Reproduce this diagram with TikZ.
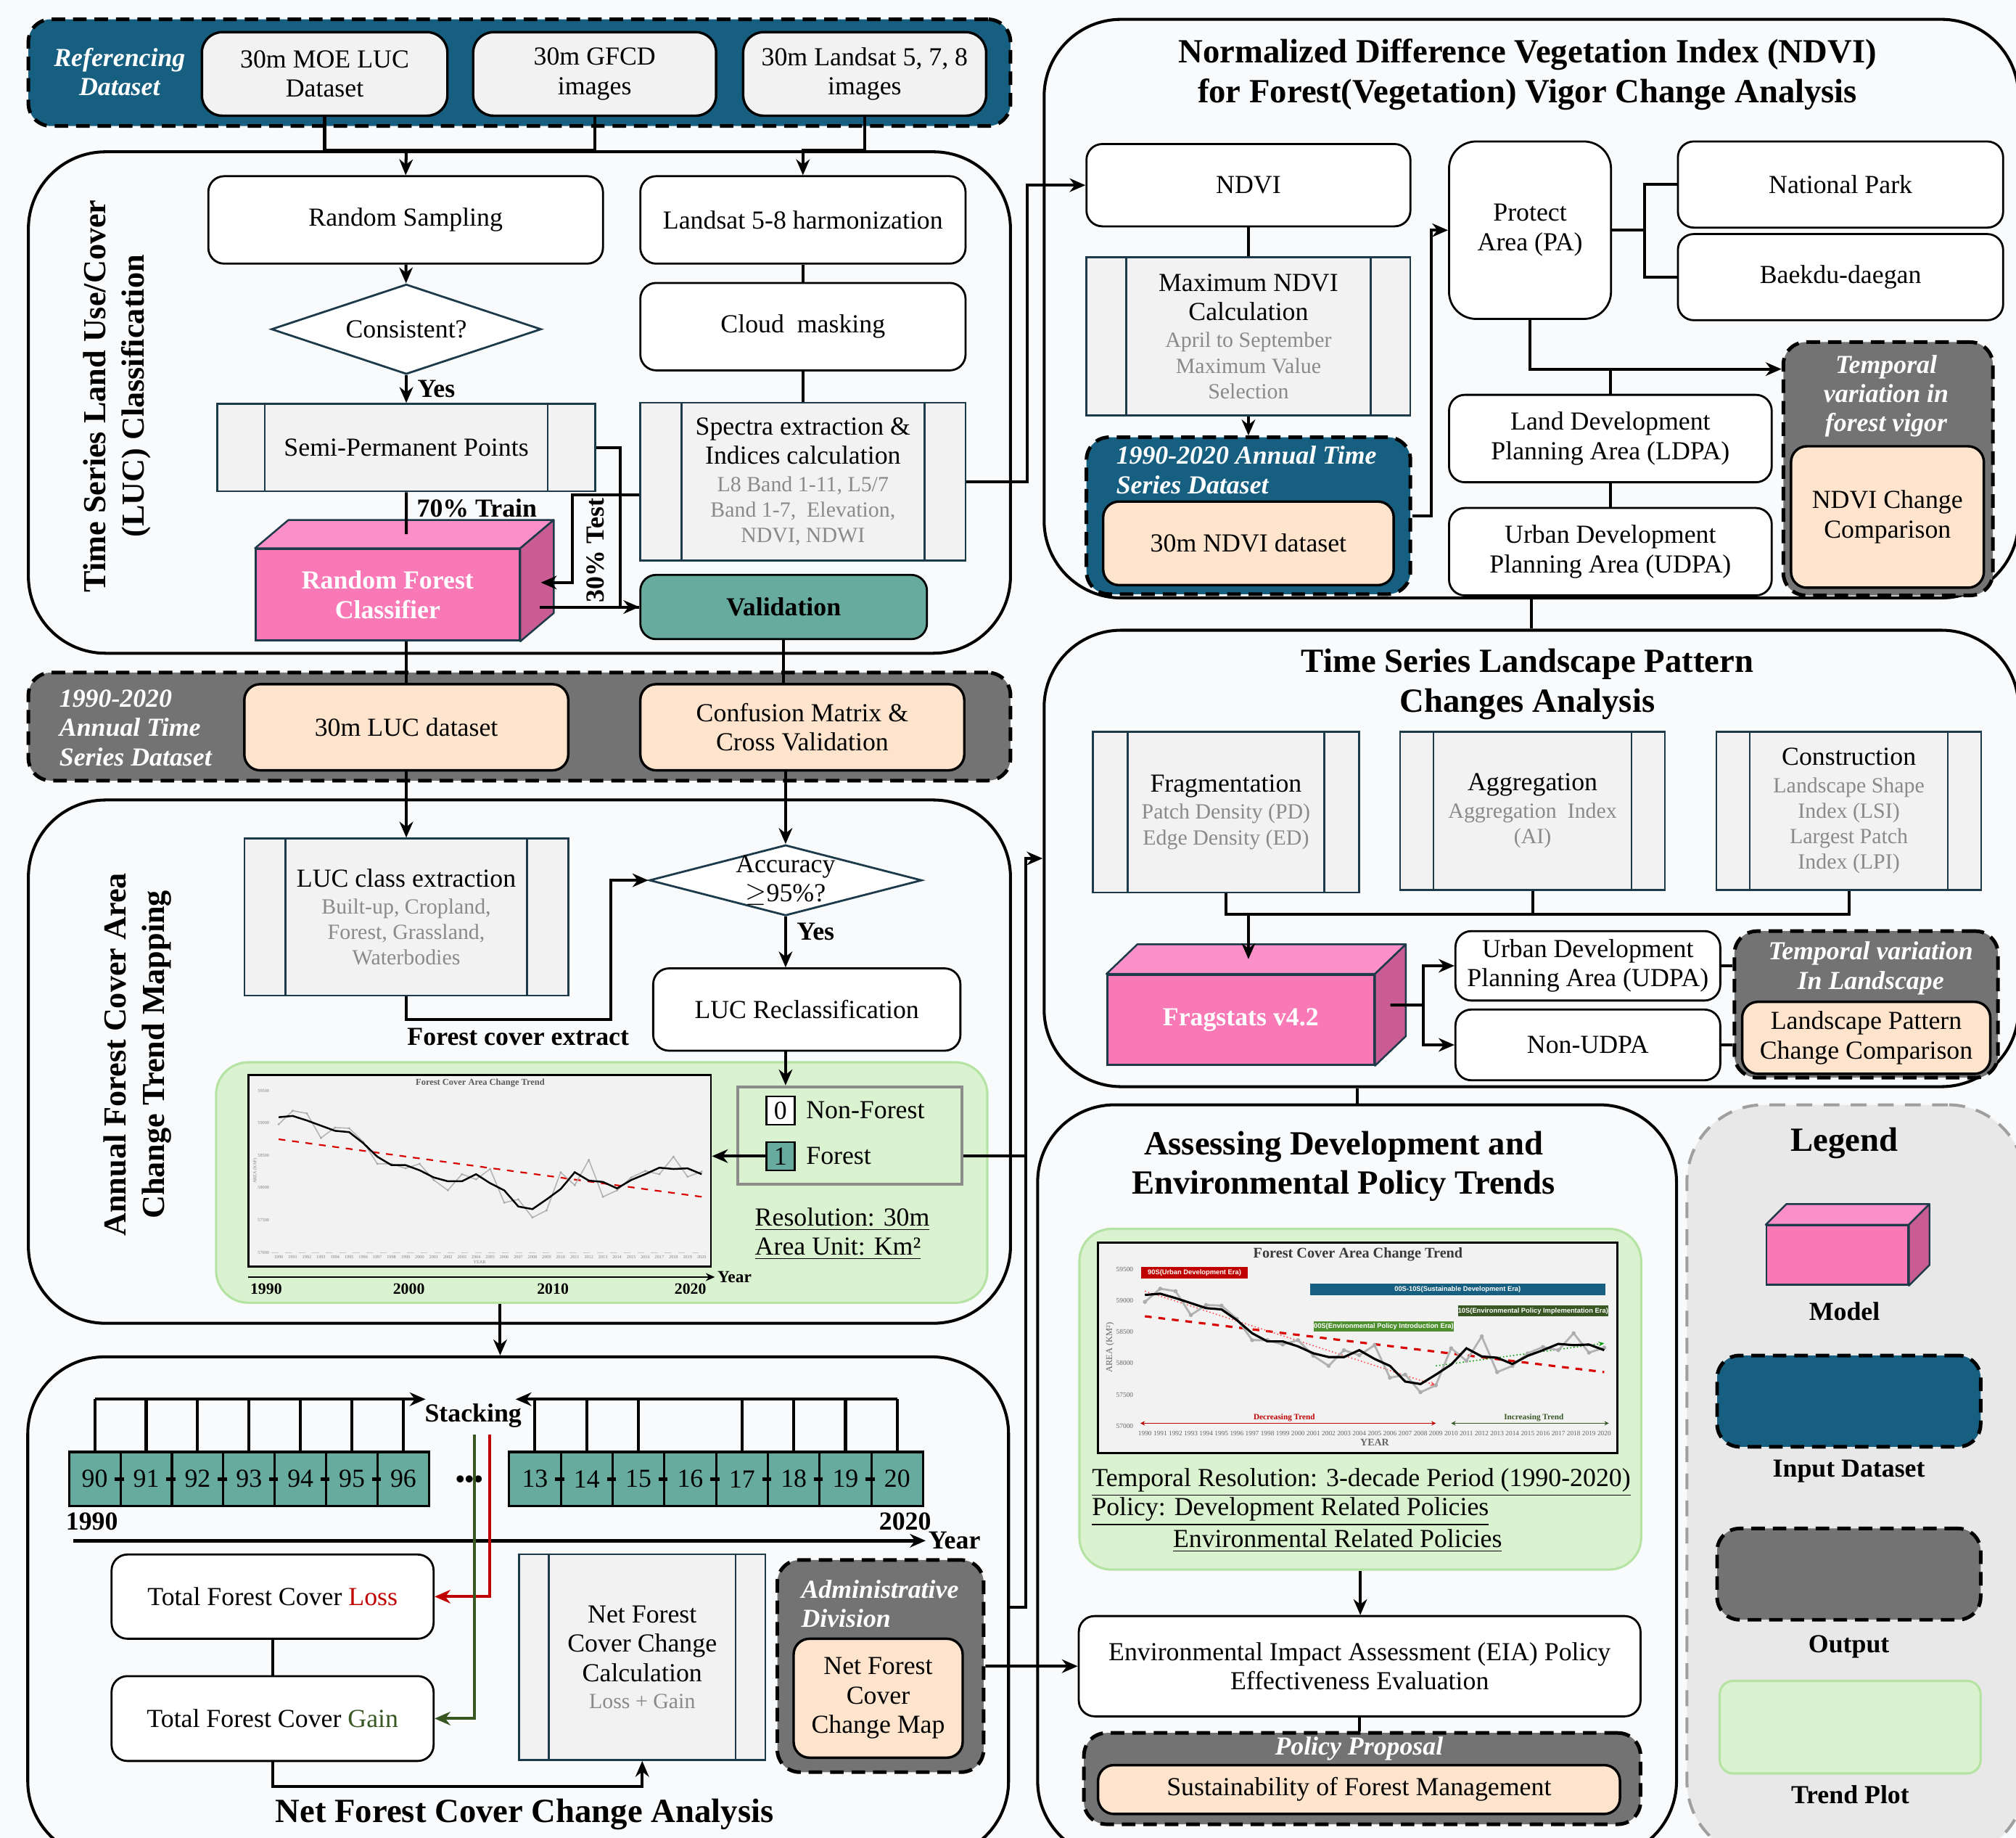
\documentclass[tikz,border=0pt]{standalone}
\usepackage{fontspec}
\setmainfont{Liberation Serif}
\setsansfont{Liberation Sans}
\usetikzlibrary{arrows.meta,positioning,shapes.geometric,calc}

\definecolor{bgcol}{HTML}{F8FAFC}
\definecolor{dsblue}{HTML}{175F80}
\definecolor{outgray}{HTML}{737373}
\definecolor{peach}{HTML}{FFE4CD}
\definecolor{boxgray}{HTML}{F2F2F2}
\definecolor{slate}{HTML}{1C3A4A}
\definecolor{pinkfront}{HTML}{F978B6}
\definecolor{pinktop}{HTML}{FA90C7}
\definecolor{pinkside}{HTML}{C95C92}
\definecolor{tealc}{HTML}{67AB9F}
\definecolor{trendgreen}{HTML}{DAF2D0}
\definecolor{trendedge}{HTML}{B5E3A3}
\definecolor{leggray}{HTML}{E8E8E8}
\definecolor{subgray}{HTML}{8A8A8A}
\definecolor{lossred}{HTML}{C00000}
\definecolor{gaingreen}{HTML}{385723}
\definecolor{eraold}{HTML}{4E8F30}

\newcommand\mainfs{\fontsize{11.5}{13}\selectfont}
\newcommand\subfs{\fontsize{9.6}{11.3}\selectfont}
\newcommand\titlefs{\fontsize{15}{17.5}\selectfont}
\newcommand\vtitlefs{\fontsize{14.2}{16.8}\selectfont}
\newcommand\erafs{\fontsize{3}{3.3}\selectfont\sffamily\bfseries}
\newcommand\subt[1]{{\subfs\color{subgray}#1}}
\newcommand\procgap{0.6cm}

% pink cuboid faces on a front node: #1 node, #2 dx, #3 dy
\newcommand{\boxfaces}[3]{%
  \filldraw[fill=pinktop, draw=slate, line width=0.8pt, line join=round]
    (#1.north west) -- ++(#2,-#3) -- ($(#1.north east)+(#2,-#3)$) -- (#1.north east) -- cycle;
  \filldraw[fill=pinkside, draw=slate, line width=0.8pt, line join=round]
    (#1.north east) -- ++(#2,-#3) -- ($(#1.south east)+(#2,-#3)$) -- (#1.south east) -- cycle;
}

% forest cover area (km2 - 57000), 1990-2020
\newcommand\rawall{1980,2190,2150,1770,1930,1920,1710,1370,1370,1300,1370,1120,960,1210,1130,1290,770,820,540,650,1240,1040,1430,860,960,1160,1260,1210,1480,1170,1250}
\newcommand\avgall{2090,2110,2040,1960,1880,1860,1690,1480,1350,1350,1270,1160,1100,1100,1210,1070,960,710,670,820,980,1240,1110,1090,990,1120,1210,1310,1290,1300,1210}
\newcommand\ticksall{0/57000,500/57500,1000/58000,1500/58500,2000/59000,2500/59500}

\begin{document}
\begin{tikzpicture}[
  x=0.02cm, y=-0.02cm,
  >={Stealth[length=7pt,width=6pt]},
  section/.style={draw=black, line width=1.3pt, rounded corners=1.2cm},
  legbox/.style={draw=gray!75, fill=leggray, line width=1.3pt, dash pattern=on 7pt off 5pt, rounded corners=1.2cm},
  inband/.style={draw=black, fill=dsblue, line width=1.6pt, dash pattern=on 6pt off 3.5pt, rounded corners=10pt},
  outband/.style={inband, fill=outgray},
  rbox/.style={draw=black, fill=white, line width=0.9pt, rounded corners=7pt, align=center, font=\mainfs, inner sep=2pt},
  srcbox/.style={rbox, fill=boxgray, rounded corners=9pt, line width=1.1pt},
  outbox/.style={rbox, fill=peach, line width=1.1pt},
  sidegap/.code={\renewcommand\procgap{#1}},
  procbox/.style={draw=slate, fill=boxgray, line width=0.8pt, align=center, font=\mainfs, inner sep=2pt,
    path picture={\draw[slate, line width=0.8pt]
      ([xshift=\procgap]path picture bounding box.south west) -- ([xshift=\procgap]path picture bounding box.north west)
      ([xshift=-\procgap]path picture bounding box.south east) -- ([xshift=-\procgap]path picture bounding box.north east);}},
  decision/.style={diamond, aspect=3, draw=slate, fill=white, line width=0.9pt, inner sep=0pt, font=\mainfs, align=center},
  model/.style={draw=slate, fill=pinkfront, line width=0.8pt, font=\mainfs\bfseries, text=white, align=center},
  bandlab/.style={font=\mainfs\bfseries\itshape, text=white, align=left},
  titlelab/.style={font=\titlefs\bfseries, align=center},
  vtitle/.style={font=\vtitlefs\bfseries, align=center, rotate=90},
  boldlab/.style={font=\mainfs\bfseries},
  line/.style={draw=black, line width=1.3pt},
  arrow/.style={line, ->},
  thinarrow/.style={draw=black, line width=0.9pt, -{Stealth[length=4pt,width=3.5pt]}},
  trendbox/.style={draw=trendedge, fill=trendgreen, line width=1pt, rounded corners=0.5cm},
  plotframe/.style={draw=black, fill=boxgray, line width=0.9pt},
  yrcell/.style={draw=black, fill=tealc, line width=1pt, minimum width=0.8cm, minimum height=0.84cm, font=\mainfs, inner sep=0pt},
  erabox/.style={font=\erafs, text=white, inner sep=0pt},
  tinylab/.style={font=\fontsize{2}{2.4}\selectfont, text=gray},
  ticklab/.style={font=\fontsize{3}{3.4}\selectfont, text=gray!80!black}
]

\useasboundingbox (0,0) rectangle (1568,1429);
\clip (0,0) rectangle (1568,1429);
\fill[bgcol] (0,0) rectangle (1568,1429);

% Sections
\node[section, minimum width=15.28cm, minimum height=7.8cm] (sec1) at (404,313) {};
\node[section, minimum width=15.28cm, minimum height=8.14cm] (sec3) at (404,825.5) {};
\node[section, minimum width=15.26cm, minimum height=7.8cm] (sec6) at (403,1250) {};
\node[section, minimum width=15.16cm, minimum height=9.0cm] (sec2) at (1191,240) {};
\node[section, minimum width=15.16cm, minimum height=7.1cm] (sec4) at (1191,667.5) {};
\node[section, minimum width=9.94cm, minimum height=11.72cm] (sec5) at (1055.5,1152) {};
\node[legbox, minimum width=5.26cm, minimum height=11.72cm] (leg) at (1443.5,1152) {};

% Referencing dataset
\node[inband, minimum width=15.28cm, minimum height=1.66cm] (ref) at (404,56.5) {};
\node[bandlab, align=center] (reflab) at (93,56) {Referencing\\Dataset};
\node[srcbox, minimum width=3.82cm, minimum height=1.3cm] (d1) at (252.5,57.5) {30m MOE LUC\\Dataset};
\node[srcbox, minimum width=3.78cm, minimum height=1.3cm] (d2) at (462.5,57.5) {30m GFCD\\images};
\node[srcbox, minimum width=3.78cm, minimum height=1.3cm] (d3) at (672.5,57.5) {30m Landsat 5, 7, 8\\images};

% LUC classification
\node[vtitle] (t1) at (91,308) {Time Series Land Use/Cover\\(LUC) Classification};
\node[rbox, minimum width=6.14cm, minimum height=1.36cm] (rs) at (315.5,171) {Random Sampling};
\node[rbox, minimum width=5.06cm, minimum height=1.36cm] (lh) at (624.5,171) {Landsat 5-8 harmonization};
\node[decision, minimum width=4.2cm, minimum height=1.4cm] (cons) at (316,256) {Consistent?};
\node[rbox, minimum width=5.06cm, minimum height=1.36cm] (cm) at (624.5,254) {Cloud\ \ masking};
\node[procbox, sidegap=0.74cm, minimum width=5.88cm, minimum height=1.36cm] (spp) at (316,348) {Semi-Permanent Points};
\node[procbox, sidegap=0.64cm, minimum width=5.06cm, minimum height=2.46cm] (spec) at (624.5,374.5)
  {Spectra extraction \&\\Indices calculation\\[-1pt]\subt{L8 Band 1-11, L5/7}\\[-1.7pt]\subt{Band 1-7,\ \ Elevation,}\\[-1.7pt]\subt{NDVI, NDWI}};
\node[model, minimum width=4.1cm, minimum height=1.42cm] (rf) at (301.5,462.5) {Random Forest\\Classifier};
\boxfaces{rf}{26}{22}
\coordinate (rftop) at ($(rf.north)+(14.5,-11)$);
\node[rbox, fill=tealc, font=\mainfs\bfseries, minimum width=4.46cm, minimum height=1.0cm] (val) at (609.5,472) {Validation};
\node[boldlab, anchor=west] (trainlab) at (318,395) {70\% Train};
\node[boldlab, rotate=90] (testlab) at (463,428) {30\% Test};

% 1990-2020 LUC dataset
\node[outband, minimum width=15.28cm, minimum height=1.68cm] (ts1) at (404,565) {};
\node[bandlab, anchor=west] (ts1lab) at (40,566) {1990-2020\\Annual Time\\Series Dataset};
\node[outbox, minimum width=5.04cm, minimum height=1.34cm] (luc) at (316,565.5) {30m LUC dataset};
\node[outbox, minimum width=5.04cm, minimum height=1.34cm] (conf) at (624,565.5) {Confusion Matrix \&\\Cross Validation};

% Annual forest cover trend
\node[vtitle] (t3) at (107,820) {Annual Forest Cover Area\\Change Trend Mapping};
\node[procbox, sidegap=0.64cm, minimum width=5.04cm, minimum height=2.44cm] (lce) at (316,713)
  {LUC class extraction\\[-1pt]\subt{Built-up,\ Cropland,}\\[-1.7pt]\subt{Forest,\ Grassland,}\\[-1.7pt]\subt{Waterbodies}};
\node[decision, minimum width=4.24cm, minimum height=1.1cm,
  label={[font=\mainfs, align=center]center:{Accuracy\\$\geq$95\%?}}] (acc) at (611,684.5) {};
\node[rbox, minimum width=4.78cm, minimum height=1.28cm] (recl) at (627.5,785) {LUC Reclassification};
\coordinate (fce) at (475,793);
\node[boldlab] (fcelab) at (403,806) {Forest cover extract};
\node[trendbox, minimum width=12cm, minimum height=3.74cm] (tp1) at (468,919.5) {};
\node[plotframe, minimum width=7.2cm, minimum height=2.98cm] (plot1) at (373,910.5) {};

% plot 1
\begin{scope}[shift={(216.7,973.9)}, x=0.2194cm, y=0.001004cm]
  \draw[gray!45, dashed, line width=0.3pt] (-0.5,0) -- (30.3,0);
  \draw[red!85!black, dashed, line width=0.7pt] (0,1750) -- (30,860);
  \draw[gray!60, line width=0.5pt] (0,1980) \foreach \v [count=\i from 0] in \rawall {-- (\i,\v)};
  \foreach \v [count=\i from 0] in \rawall \fill[gray!70] (\i,\v) circle (0.5pt);
  \draw[black, line width=0.8pt] (0,2090) \foreach \v [count=\i from 0] in \avgall {-- (\i,\v)};
  \foreach \i in {0,...,30} {\pgfmathtruncatemacro\yy{1990+\i}\node[tinylab] at (\i,-74) {\yy};}
  \foreach \v/\t in \ticksall {\node[tinylab] at (-1.07,\v) {\t};}
\end{scope}
\node[font=\fontsize{4}{5}\selectfont\bfseries, text=gray!70!black] (p1t) at (373.5,842.2) {Forest Cover Area Change Trend};
\node[tinylab, rotate=90] (p1y) at (198.6,910.5) {AREA (KM²)};
\node[tinylab] (p1x) at (373,981.5) {YEAR};
\coordinate (pa0) at (193,993);
\node[font=\fontsize{7.5}{8}\selectfont\bfseries, anchor=west, inner sep=1pt] (yr1) at (556,993) {Year};
\draw[thinarrow] (pa0) -- (yr1.west);
\foreach \yr/\xx in {1990/207,2000/318,2010/430,2020/537}
  \node[font=\fontsize{7}{8}\selectfont\bfseries] (x\yr) at (\xx,1002) {\yr};

\node[draw=gray!90, line width=1.2pt, minimum width=3.48cm, minimum height=1.52cm] (cls) at (661,883) {};
\node[draw=black, fill=white, line width=0.8pt, minimum size=0.44cm, inner sep=0pt, font=\mainfs] (c0) at (607,863.5) {0};
\node[right=0.16cm of c0, font=\mainfs, inner sep=0pt] (c0lab) {Non-Forest};
\node[draw=black, fill=tealc, line width=0.8pt, minimum size=0.44cm, inner sep=0pt, font=\mainfs] (c1) at (607,899) {1};
\node[right=0.16cm of c1, font=\mainfs, inner sep=0pt] (c1lab) {Forest};
\node[font=\mainfs, align=left, anchor=west] (res) at (581,959.5) {\underline{Resolution: 30m}\\\underline{Area Unit: Km²}};

% Net forest cover change
\foreach \yr [count=\i from 0] in {90,...,96}
  \node[yrcell] (y\yr) at (73.7+40*\i,1150) {\yr};
\foreach \yr [count=\i from 0] in {13,...,20}
  \node[yrcell, minimum width=0.805cm] (y\yr) at (416.1+40.25*\i,1150) {\yr};
\foreach \yr in {91,...,96}
  \draw[line width=1.6pt] ($(y\yr.west)+(-3.5,0)$) -- ++(7,0);
\foreach \yr in {14,...,20}
  \draw[line width=1.6pt] ($(y\yr.west)+(-3.5,0)$) -- ++(7,0);
\node[boldlab] (stack) at (368,1101) {Stacking};
\coordinate (stkL) at (331,1088);
\coordinate (stkR) at (401,1088);
\foreach \yr in {90,...,96}
  \draw[line] (y\yr.north) -- (y\yr.north |- stkL);
\draw[arrow] (y90.north |- stkL) -- (stkL);
\foreach \yr in {13,14,15,17,18,19,20}
  \draw[line] (y\yr.north) -- (y\yr.north |- stkR);
\draw[arrow] (y20.north |- stkR) -- (stkR);
\node[font=\mainfs\bfseries] (dots) at (365,1152) {\textbullet\textbullet\textbullet};
\node[boldlab] (y1990) at (71.5,1183) {1990};
\node[boldlab] (y2020) at (704,1183) {2020};
\coordinate (ax0) at (57,1198);
\node[boldlab, anchor=west, inner sep=1pt] (yr2) at (720,1198) {Year};
\draw[arrow, line width=1.6pt] (ax0) -- (yr2.west);

\node[rbox, minimum width=5.01cm, minimum height=1.31cm] (loss) at (212,1241.5) {Total Forest Cover \textcolor{lossred}{Loss}};
\node[rbox, minimum width=5.01cm, minimum height=1.32cm] (gain) at (212,1336.3) {Total Forest Cover \textcolor{gaingreen}{Gain}};
\coordinate (rst) at (380.7,1115.7);
\coordinate (gst) at (369,1115.7);
\node[procbox, sidegap=0.46cm, minimum width=3.83cm, minimum height=3.2cm] (nfc) at (499.5,1288.6)
  {Net Forest\\Cover Change\\Calculation\\[-1pt]\subt{Loss + Gain}};
\node[outband, minimum width=3.21cm, minimum height=3.3cm] (adm) at (684.8,1295.5) {};
\node[bandlab, anchor=west] (admlab) at (617,1247) {Administrative\\Division};
\node[outbox, minimum width=2.63cm, minimum height=1.85cm] (nfcm) at (683,1320.5) {Net Forest\\Cover\\Change Map};
\node[titlelab] (t6) at (408,1411) {Net Forest Cover Change Analysis};

% NDVI
\node[titlelab] (t2) at (1188,58) {Normalized Difference Vegetation Index (NDVI)\\for Forest(Vegetation) Vigor Change Analysis};
\node[rbox, minimum width=5.04cm, minimum height=1.28cm] (ndvi) at (971,144) {NDVI};
\node[procbox, sidegap=0.62cm, minimum width=5.04cm, minimum height=2.46cm] (maxn) at (971,261.5)
  {Maximum NDVI\\Calculation\\[-1pt]\subt{April to September}\\[-1.7pt]\subt{Maximum Value}\\[-1.7pt]\subt{Selection}};
\node[inband, minimum width=5.04cm, minimum height=2.44cm] (tsd) at (971,401) {};
\node[bandlab, anchor=west] (tsdlab) at (862,365.5) {1990-2020 Annual Time\\Series Dataset};
\node[outbox, minimum width=4.52cm, minimum height=1.3cm] (nd30) at (971,422.5) {30m NDVI dataset};
\node[rbox, rounded corners=12pt, minimum width=2.52cm, minimum height=2.76cm] (pa) at (1190,179) {Protect\\Area (PA)};
\node[rbox, minimum width=5.06cm, minimum height=1.34cm] (np) at (1431.5,143.5) {National Park};
\node[rbox, minimum width=5.06cm, minimum height=1.34cm] (bd) at (1431.5,215.5) {Baekdu-daegan};
\node[rbox, minimum width=5.02cm, minimum height=1.36cm] (ldpa) at (1252.5,341) {Land Development\\Planning Area (LDPA)};
\node[rbox, minimum width=5.02cm, minimum height=1.36cm] (udpa) at (1252.5,429) {Urban Development\\Planning Area (UDPA)};
\node[outband, minimum width=3.26cm, minimum height=3.94cm] (tv1) at (1468.5,364.5) {};
\node[bandlab, align=center] (tv1lab) at (1467,308) {Temporal\\variation in\\forest vigor};
\node[outbox, minimum width=3.0cm, minimum height=2.2cm] (ndc) at (1468,402) {NDVI Change\\Comparison};
\coordinate (paj) at (1279,179);
\coordinate (pad) at (1190,287);

% Landscape pattern
\node[titlelab] (t4) at (1188,532) {Time Series Landscape Pattern\\Changes Analysis};
\node[procbox, sidegap=0.54cm, minimum width=4.14cm, minimum height=2.5cm] (frag) at (953.5,631.5)
  {Fragmentation\\[-1pt]\subt{Patch Density (PD)}\\[-1.7pt]\subt{Edge Density (ED)}};
\node[procbox, sidegap=0.52cm, minimum width=4.12cm, minimum height=2.46cm] (aggr) at (1192,630.5)
  {Aggregation\\[-1pt]\subt{Aggregation\ \ Index}\\[-1.7pt]\subt{(AI)}};
\node[procbox, sidegap=0.52cm, minimum width=4.12cm, minimum height=2.46cm] (constr) at (1438,630.5)
  {Construction\\[-1pt]\subt{Landscape Shape}\\[-1.7pt]\subt{Index (LSI)}\\[-1.7pt]\subt{Largest Patch}\\[-1.7pt]\subt{Index (LPI)}};
\node[model, minimum width=4.15cm, minimum height=1.4cm] (frst) at (965,793) {Fragstats v4.2};
\boxfaces{frst}{24}{23}
\coordinate (frtop) at ($(frst.north)+(6,-11.5)$);
\coordinate (fb) at (971,711);
\coordinate (fj) at (1107,781.5);
\node[rbox, minimum width=4.12cm, minimum height=1.08cm] (udpa2) at (1235,751) {Urban Development\\Planning Area (UDPA)};
\node[rbox, minimum width=4.12cm, minimum height=1.1cm] (nudpa) at (1235,812.5) {Non-UDPA};
\node[outband, minimum width=4.1cm, minimum height=2.28cm] (tv2) at (1451.5,781) {};
\node[bandlab, align=center] (tv2lab) at (1455,753) {Temporal variation\\In Landscape};
\node[outbox, minimum width=3.86cm, minimum height=1.12cm] (lpc) at (1451.5,807) {Landscape Pattern\\Change Comparison};

% Policy trends
\node[titlelab] (t5) at (1045,907) {Assessing Development and\\Environmental Policy Trends};
\node[trendbox, minimum width=8.74cm, minimum height=5.3cm] (tp2) at (1058,1088) {};
\node[plotframe, minimum width=8.08cm, minimum height=3.28cm] (plot2) at (1056,1048) {};

% plot 2
\begin{scope}[shift={(890.5,1108.9)}, x=0.2382cm, y=0.0009824cm]
  \draw[red!85!black, dashed, line width=1pt] (0,1750) -- (30,860);
  \draw[red!70, densely dotted, line width=0.5pt, -{Stealth[length=2.5pt,width=2pt]}] (0,2150) -- (19,650);
  \draw[green!60!black, densely dotted, line width=0.5pt, -{Stealth[length=2.5pt,width=2pt]}] (19,960) -- (30,1320);
  \draw[gray!60, line width=0.9pt] (0,1980) \foreach \v [count=\i from 0] in \rawall {-- (\i,\v)};
  \foreach \v [count=\i from 0] in \rawall \fill[gray!65] (\i,\v) circle (0.9pt);
  \draw[black, line width=1pt] (0,2090) \foreach \v [count=\i from 0] in \avgall {-- (\i,\v)};
  \draw[lossred, line width=0.5pt, {Stealth[length=2pt,width=2pt]}-{Stealth[length=2pt,width=2pt]}] (-0.3,45) -- (19,45);
  \draw[gaingreen, line width=0.5pt, {Stealth[length=2pt,width=2pt]}-{Stealth[length=2pt,width=2pt]}] (20,45) -- (30.3,45);
  \node[font=\fontsize{3.6}{4}\selectfont\bfseries, text=lossred] at (9.1,134) {Decreasing Trend};
  \node[font=\fontsize{3.6}{4}\selectfont\bfseries, text=gaingreen] at (25.4,134) {Increasing Trend};
  \foreach \i in {0,...,30} {\pgfmathtruncatemacro\yy{1990+\i}\node[ticklab] at (\i,-116) {\yy};}
  \foreach \v/\t in \ticksall {\node[ticklab] at (-1.32,\v) {\t};}
\end{scope}
\node[font=\fontsize{6.5}{7}\selectfont\bfseries, text=gray!45!black] (p2t) at (1056.2,975.3) {Forest Cover Area Change Trend};
\node[font=\fontsize{4}{4.5}\selectfont, text=gray!80!black, rotate=90] (p2y) at (863.3,1047.8) {AREA (KM²)};
\node[font=\fontsize{4.5}{5}\selectfont\bfseries, text=gray!80!black] (p2x) at (1069.2,1121.5) {YEAR};
\node[erabox, fill=lossred, minimum width=1.65cm, minimum height=0.18cm] (e90) at (929,989.8) {90S(Urban Development Era)};
\node[erabox, fill=dsblue, minimum width=4.6cm, minimum height=0.18cm] (e0010) at (1133.7,1002.4) {00S-10S(Sustainable Development Era)};
\node[erabox, fill=gaingreen, minimum width=2.23cm, minimum height=0.17cm] (e10) at (1192.4,1019.5) {10S(Environmental Policy Implementation Era)};
\node[erabox, fill=eraold, minimum width=2.06cm, minimum height=0.16cm] (e00) at (1076.2,1031.6) {00S(Environmental Policy Introduction Era)};
\node[font=\mainfs, anchor=west, inner sep=0pt] (pol1) at (849,1152.7) {\underline{Temporal Resolution: 3-decade Period (1990-2020)}};
\node[font=\mainfs, anchor=west, inner sep=0pt] (pol2) at (849,1175.5) {\underline{Policy: Development Related Policies}};
\node[font=\mainfs, anchor=west, inner sep=0pt] (pol3) at (912,1198.2) {\underline{Environmental Related Policies}};
\node[rbox, minimum width=8.74cm, minimum height=1.56cm] (eia) at (1057.5,1295.6) {Environmental Impact Assessment (EIA) Policy\\Effectiveness Evaluation};
\node[outband, minimum width=8.66cm, minimum height=1.42cm] (pp) at (1059.5,1383) {};
\node[bandlab] (pplab) at (1057,1360) {Policy Proposal};
\node[outbox, minimum width=8.12cm, minimum height=0.76cm] (sfm) at (1057,1391.5) {Sustainability of Forest Management};

% Legend
\node[titlelab] (legt) at (1434.6,889) {Legend};
\node[model, minimum width=2.2cm, minimum height=0.92cm] (legm) at (1429,976) {};
\boxfaces{legm}{16}{16}
\node[boldlab] (legml) at (1434.6,1019.7) {Model};
\node[inband, minimum width=4.1cm, minimum height=1.42cm] (legin) at (1438,1089.5) {};
\node[boldlab] (leginl) at (1438,1144) {Input Dataset};
\node[outband, minimum width=4.1cm, minimum height=1.42cm] (legout) at (1438,1224) {};
\node[boldlab] (legoutl) at (1438,1280.4) {Output};
\node[trendbox, rounded corners=6pt, minimum width=4.06cm, minimum height=1.44cm] (legtp) at (1439,1343) {};
\node[boldlab] (legtpl) at (1439,1395.3) {Trend Plot};

% Connectors
\coordinate (j1) at (316,117);
\coordinate (j2) at (624.5,117);
\draw[line] (d1.south) |- (j1) -| (d2.south);
\draw[arrow] (j1) -- (rs.north);
\draw[arrow] (d3.south) |- (j2) -- (lh.north);

\draw[arrow] (rs) -- (cons);
\draw[arrow] (cons.south) -- (spp.north) node[midway, right=1pt, boldlab] (yes1) {Yes};
\draw[line] (spp.south) -- (rftop);
\draw[arrow] (spp.east) -- ++(19,0) |- (val.west);
\draw[line] ($(rf.east |- val.west)+(15,0)$) -- (val.west);
\draw[arrow] ([yshift=-0.21cm]spec.west) -- ++(-52,0) |- ([xshift=0.32cm, yshift=0.19cm]rf.east);
\draw[line] (lh) -- (cm);
\draw[line] (cm) -- (spec);
\draw[line] (luc.north |- rf.south) -- (luc.north);
\draw[line] (val.south) -- (val.south |- conf.north);

\draw[arrow] (luc.south) -- (lce.north);
\draw[arrow] (acc.north |- conf.south) -- (acc.north);
\draw[arrow] (lce.south) |- (fce) |- (acc.west);
\draw[arrow] (acc.south) -- (acc.south |- recl.north) node[pos=0.3, right=1pt, boldlab] (yes2) {Yes};
\draw[arrow] (acc.south |- recl.south) -- (acc.south |- cls.north);
\draw[arrow] (c1.west) -- (plot1.east |- c1);

\coordinate (vb) at (798,1250);
\draw[line] (cls.east |- c1) -- (vb |- c1);
\draw[arrow] (sec6.east) -- (vb) |- (sec4.west);
\draw[arrow] (spec.east) -- ++(47,0) |- (ndvi.west);
\draw[arrow] ([xshift=-1.58cm]tp1.south) -- ([xshift=-1.58cm]tp1.south |- sec6.north);

\draw[arrow, draw=lossred] (rst) |- (loss.east);
\draw[arrow, draw=gaingreen] (gst) |- (gain.east);
\draw[line] (loss) -- (gain);
\draw[arrow] (gain.south) -- ++(0,19) -| (nfc.south);
\draw[arrow] (adm.east) -- (eia.west);

\draw[line] (ndvi) -- (maxn);
\draw[arrow] (maxn) -- (tsd);
\draw[arrow] (tsd.east) -- ++(15,0) |- (pa.west);
\draw[line] (pa.east) -- (paj);
\draw[line] (np.west) -| (paj) |- (bd.west);
\draw[arrow] (pa.south) -- (pad) -- (pad -| tv1.west);
\draw[line] (ldpa.north) -- (ldpa.north |- pad);
\draw[line] (ldpa) -- (udpa);
\draw[line] (sec2.south) -- (sec2.south |- sec4.north);

\draw[line] (frag.south) |- (fb) -- (fb -| constr.south) -- (constr.south);
\draw[line] (aggr.south) -- (aggr.south |- fb);
\draw[arrow] (fb) -- (frtop);
\draw[line] ($(frst.east)+(12,-11.5)$) -- (fj);
\draw[arrow] (fj) |- (udpa2.west);
\draw[arrow] (fj) |- (nudpa.west);
\draw[line] (udpa2.east) -- (udpa2.east -| tv2.west);
\draw[line] (nudpa.east) -- (nudpa.east -| tv2.west);
\draw[line] (sec5.north |- sec4.south) -- (sec5.north);

\draw[arrow] (tp2.south) -- (tp2.south |- eia.north);
\draw[line] (eia.south) -- (eia.south |- pp.north);

\end{tikzpicture}
\end{document}
